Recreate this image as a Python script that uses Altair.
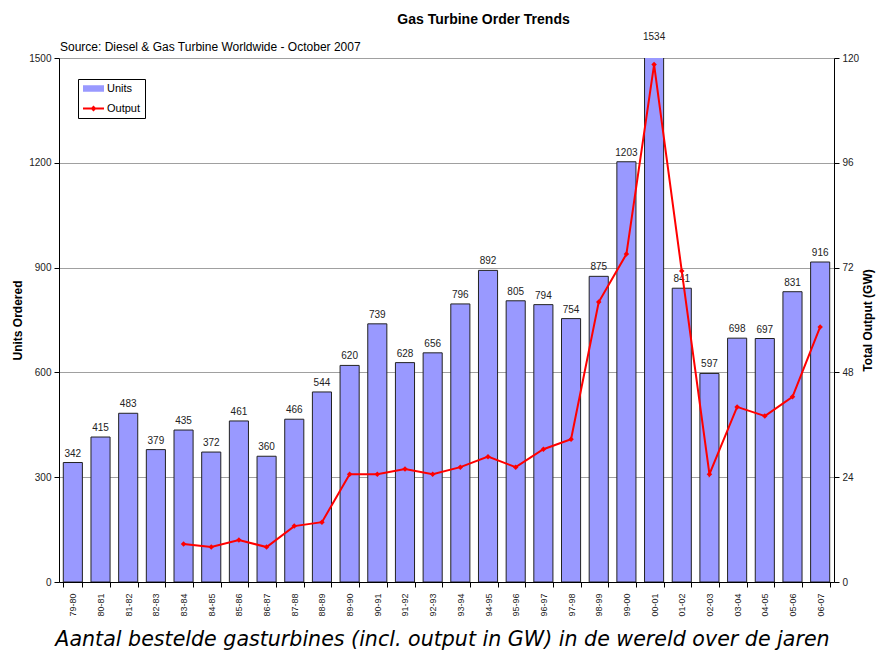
import altair as alt
import pandas as pd

periods = ["79-80", "80-81", "81-82", "82-83", "83-84", "84-85", "85-86", "86-87",
           "87-88", "88-89", "89-90", "90-91", "91-92", "92-93", "93-94", "94-95",
           "95-96", "96-97", "97-98", "98-99", "99-00", "00-01", "01-02", "02-03",
           "03-04", "04-05", "05-06", "06-07"]
units = [342, 415, 483, 379, 435, 372, 461, 360, 466, 544, 620, 739, 628, 656,
         796, 892, 805, 794, 754, 875, 1203, 1534, 841, 597, 698, 697, 831, 916]
output_gw = [None, None, None, None, 8.7, 8.0, 9.6, 8.0, 12.8, 13.7, 24.7, 24.7,
             25.9, 24.7, 26.3, 28.7, 26.3, 30.4, 32.7, 64.1, 75.1, 118.5, 71.2,
             24.7, 40.1, 38.0, 42.4, 58.4]
series_names = ["Units", "Output"]
series_colors = ["#9999FF", "#FF0000"]
units_ticks = [0, 300, 600, 900, 1200, 1500]
output_ticks = [0, 24, 48, 72, 96, 120]

title_text = "Gas Turbine Order Trends"
source_text = "Source: Diesel & Gas Turbine Worldwide - October 2007"
caption_text = "Aantal bestelde gasturbines (incl. output in GW) in de wereld over de jaren"
left_title = "Units Ordered"
right_title = "Total Output (GW)"

FONT = "Liberation Sans"
UNITS_PATH = "M-2.1,-0.65H2.1V0.65H-2.1Z"
OUTPUT_PATH = "M-2.1,-0.2H2.1V0.2H-2.1Z M0,-0.6L0.6,0L0,0.6L-0.6,0Z"

bars_df = pd.DataFrame({"period": periods, "units": units, "series": "Units"})
out_df = pd.DataFrame({"period": periods, "output": output_gw}).dropna()
legend_df = pd.DataFrame({"series": series_names})
note_df = pd.DataFrame({"note": [source_text]})

x_scale = alt.Scale(domain=periods, paddingInner=0.31, paddingOuter=0.155)
color_scale = alt.Scale(domain=series_names, range=series_colors)
shape_scale = alt.Scale(domain=series_names, range=[UNITS_PATH, OUTPUT_PATH])

x_axis = alt.Axis(
    title=caption_text, labelAngle=270, labelFont=FONT, labelFontSize=9,
    labelColor="#222222", labelPadding=6, tickBand="extent", tickSize=5,
    tickColor="black", domainColor="black",
    titleFont="DejaVu Sans", titleFontStyle="italic", titleFontWeight="normal",
    titleFontSize=20.6, titleColor="black", titleBaseline="alphabetic", titleY=63,
    titleX=383, titleAlign="center",
)

left_axis = alt.Axis(
    values=units_ticks, format="d", grid=True, gridColor="#A0A0A0",
    domainColor="black", tickColor="black", tickSize=5, labelFont=FONT,
    labelFontSize=10, labelColor="#222222", labelPadding=3, title=left_title,
    titleFont=FONT, titleFontSize=12, titleFontWeight="bold", titleColor="black",
    titlePadding=4,
)
right_axis = alt.Axis(
    orient="right", values=output_ticks, format="d", grid=False,
    domainColor="black", tickColor="black", tickSize=5, labelFont=FONT,
    labelFontSize=10, labelColor="#222222", labelPadding=3, title=right_title,
    titleFont=FONT, titleFontSize=12, titleFontWeight="bold", titleColor="black",
    titlePadding=16, titleAngle=270,
)

legend_cfg = alt.Legend(
    orient="none", legendX=19, legendY=21, title=None, strokeColor="black",
    fillColor="white", padding=4, rowPadding=8, symbolSize=100, symbolOffset=6,
    labelOffset=8, labelFont=FONT, labelFontSize=11, labelColor="black",
    symbolOpacity=1, symbolStrokeWidth=0,
)

x_enc = alt.X("period:N", scale=x_scale, axis=x_axis, sort=periods)

bars = alt.Chart(bars_df).mark_bar(stroke="#222222", strokeWidth=1, clip=True).encode(
    x=x_enc,
    y=alt.Y("units:Q", scale=alt.Scale(domain=[0, 1500], nice=False), axis=left_axis),
    color=alt.Color("series:N", scale=color_scale, legend=legend_cfg),
)
labels = alt.Chart(bars_df).mark_text(
    baseline="bottom", dy=-4, font=FONT, fontSize=10, color="#222222"
).encode(
    x=x_enc,
    y=alt.Y("units:Q", axis=left_axis),
    text=alt.Text("units:Q"),
)
note = alt.Chart(note_df).mark_text(
    align="left", baseline="bottom", font=FONT, fontSize=12, color="black"
).encode(x=alt.value(1), y=alt.value(-4), text="note:N")

left = alt.layer(bars, labels, note)

line = alt.Chart(out_df).mark_line(color="#FF0000", strokeWidth=2).encode(
    x=x_enc,
    y=alt.Y("output:Q", scale=alt.Scale(domain=[0, 120], nice=False), axis=right_axis),
)
points = alt.Chart(out_df).mark_point(
    shape="diamond", filled=True, color="#FF0000", size=30, opacity=1
).encode(
    x=x_enc,
    y=alt.Y("output:Q", axis=right_axis),
)
right = alt.layer(line, points)

legend_layer = alt.Chart(legend_df).mark_point(filled=True, size=0).encode(
    color=alt.Color("series:N", scale=color_scale, legend=legend_cfg),
    shape=alt.Shape("series:N", scale=shape_scale, legend=legend_cfg),
)

chart = alt.layer(left, right, legend_layer).resolve_scale(y="independent").properties(
    width=775,
    height=524,
    padding={"left": 59, "top": 58, "right": 43, "bottom": 69},
    autosize=alt.AutoSizeParams(type="none"),
    background="white",
    title=alt.TitleParams(
        title_text, font=FONT, fontSize=14, fontWeight="bold", color="black",
        anchor="middle", dx=37, dy=18, baseline="bottom", offset=9,
    ),
).configure_view(stroke=None)

chart.save("out.html", embed_options={"renderer": "svg", "actions": False})
